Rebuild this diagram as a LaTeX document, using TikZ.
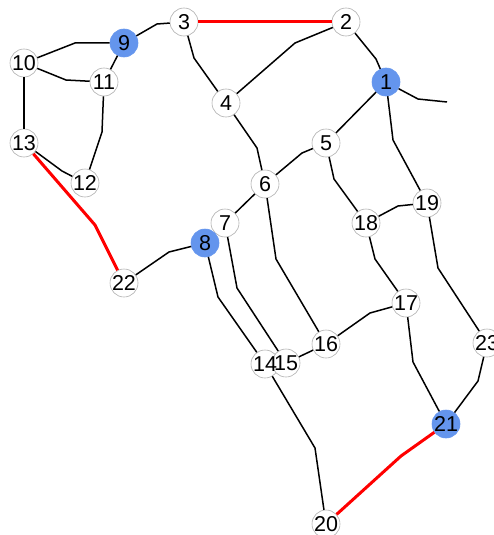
\documentclass[tikz,border=0pt]{standalone}
\usepackage{fontspec}
\setmainfont{Liberation Sans}
\definecolor{nodeblue}{RGB}{100,149,237}
\definecolor{rimgray}{RGB}{175,175,175}
\begin{document}
\begin{tikzpicture}[x=1pt,y=-1pt,
  vnode/.style={circle,draw=rimgray,line width=0.6pt,fill=white,minimum size=28pt,inner sep=0pt},
  bnode/.style={vnode,fill=nodeblue,draw=nodeblue},
  lbl/.style={inner sep=0pt,font=\fontsize{21.5}{21.5}\selectfont},
  edge/.style={draw=black,line width=1.5pt,line join=round},
  redge/.style={draw=red,line width=3pt,line join=round}]
\useasboundingbox (0,0) rectangle (493,535);
\coordinate (free) at (447,102);
% node circles
\node[bnode] (n1) at (386,82) {};
\node[vnode] (n2) at (346,22) {};
\node[vnode] (n3) at (184,22) {};
\node[vnode] (n4) at (226,103) {};
\node[vnode] (n5) at (326,143) {};
\node[vnode] (n6) at (265,184) {};
\node[vnode] (n7) at (225,223) {};
\node[bnode] (n8) at (205,243) {};
\node[bnode] (n9) at (124,43) {};
\node[vnode] (n10) at (24,63) {};
\node[vnode] (n11) at (104,82) {};
\node[vnode] (n12) at (85,183) {};
\node[vnode] (n13) at (24,143) {};
\node[vnode] (n14) at (265,364) {};
\node[vnode] (n15) at (286,363) {};
\node[vnode] (n16) at (326,344) {};
\node[vnode] (n17) at (406,303) {};
\node[vnode] (n18) at (366,223) {};
\node[vnode] (n19) at (427,203) {};
\node[vnode] (n20) at (326,524) {};
\node[bnode] (n21) at (446,424) {};
\node[vnode] (n22) at (124,283) {};
\node[vnode] (n23) at (487,343) {};
% labels on top of all circles
\foreach \i in {1,...,23} {\node[lbl] (t\i) at (n\i.center) {\i};}
% black edges
\draw[edge] (n9) -- (157,24) -- (n3);
\draw[edge] (n9) -- (75,43) -- (n10);
\draw[edge] (n10) -- (66,80) -- (n11);
\draw[edge] (n9) -- (n11);
\draw[edge] (n10) -- (n13);
\draw[edge] (n13) -- (62,171) -- (n12);
\draw[edge] (n11) -- (102,132) -- (n12);
\draw[edge] (n22) -- (169,252) -- (n8);
\draw[edge] (n3) -- (194,58) -- (n4);
\draw[edge] (n4) -- (295,43) -- (n2);
\draw[edge] (n2) -- (376,59) -- (n1);
\draw[edge] (n1) -- (418,99) -- (free);
\draw[edge] (n1) -- (n5);
\draw[edge] (n1) -- (393,140) -- (n19);
\draw[edge] (n5) -- (302,153) -- (n6);
\draw[edge] (n5) -- (334,179) -- (n18);
\draw[edge] (n4) -- (257,148) -- (n6);
\draw[edge] (n6) -- (n7);
\draw[edge] (n6) -- (276,259) -- (n16);
\draw[edge] (n7) -- (237,288) -- (n15);
\draw[edge] (n8) -- (218,297) -- (n14);
\draw[edge] (n18) -- (398,206) -- (n19);
\draw[edge] (n18) -- (375,259) -- (n17);
\draw[edge] (n19) -- (438,268) -- (n23);
\draw[edge] (n17) -- (370,313) -- (n16);
\draw[edge] (n16) -- (n15);
\draw[edge] (n17) -- (413,362) -- (n21);
\draw[edge] (n23) -- (478,381) -- (n21);
\draw[edge] (n14) -- (315,448) -- (n20);
% red edges
\draw[redge] (n3) -- (n2);
\draw[redge] (n13) -- (95,225) -- (n22);
\draw[redge] (n20) -- (401,456) -- (n21);
\end{tikzpicture}
\end{document}
